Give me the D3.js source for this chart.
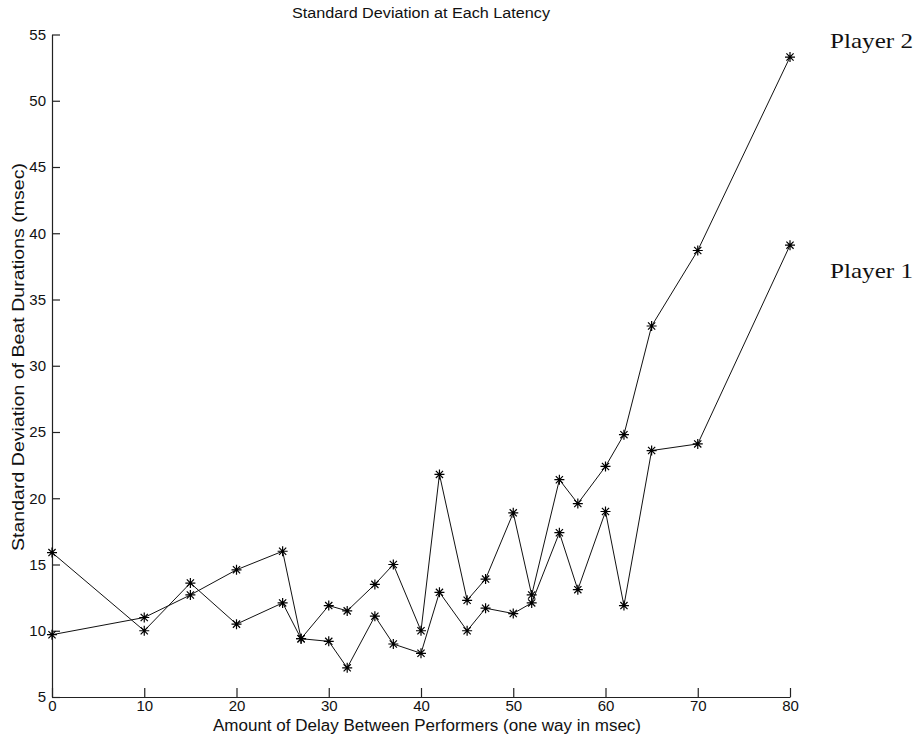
<!DOCTYPE html>
<html>
<head>
<meta charset="utf-8">
<script src="https://cdn.jsdelivr.net/npm/d3@7"></script>
<style>
  html, body { margin: 0; padding: 0; background: #fff; }
  svg { display: block; }
</style>
</head>
<body>
<div id="chart"></div>
<script>
// Latency conditions (one-way delay, msec)
const delays = [0, 10, 15, 20, 25, 27, 30, 32, 35, 37, 40, 42, 45, 47, 50, 52, 55, 57, 60, 62, 65, 70, 80];

// Standard deviation of beat durations (msec) for each performer
const player2 = [9.7, 11.0, 12.7, 14.6, 16.0, 9.4, 11.9, 11.5, 13.5, 15.0, 10.0, 21.8, 12.3, 13.9, 18.9, 12.7, 21.4, 19.6, 22.4, 24.8, 33.0, 38.7, 53.3];
const player1 = [15.9, 10.0, 13.6, 10.5, 12.1, 9.4, 9.2, 7.2, 11.1, 9.0, 8.3, 12.9, 10.0, 11.7, 11.3, 12.1, 17.4, 13.1, 19.0, 11.9, 23.6, 24.1, 39.1];

const seriesNames = ["Player 2", "Player 1"];
const xTicks = [0, 10, 20, 30, 40, 50, 60, 70, 80];
const yTicks = [5, 10, 15, 20, 25, 30, 35, 40, 45, 50, 55];

const titleText = "Standard Deviation at Each Latency";
const xLabelText = "Amount of Delay Between Performers (one way in msec)";
const yLabelText = "Standard Deviation of Beat Durations (msec)";

const W = 919, H = 748;
const margin = { left: 52, right: 129, top: 34.5, bottom: 51 };

const svg = d3.select("#chart").append("svg")
  .attr("width", W).attr("height", H);

const x = d3.scaleLinear().domain([0, 80]).range([margin.left, W - margin.right]);
const y = d3.scaleLinear().domain([5, 55]).range([H - margin.bottom, margin.top]);

const sansFont = "'Liberation Sans', Arial, Helvetica, sans-serif";

// Axes: ticks point inward, no end caps
const xAxis = svg.append("g")
  .attr("transform", `translate(0,${y(5)})`)
  .call(d3.axisBottom(x).tickValues(xTicks).tickSizeInner(-9).tickSizeOuter(0).tickPadding(3));

const yAxis = svg.append("g")
  .attr("transform", `translate(${x(0)},0)`)
  .call(d3.axisLeft(y).tickValues(yTicks).tickSizeInner(-8).tickSizeOuter(0).tickPadding(6));

[xAxis, yAxis].forEach(g => {
  g.selectAll("path, line").attr("stroke", "#222").attr("stroke-width", 1.2);
  g.selectAll("text")
    .attr("font-family", sansFont)
    .attr("font-size", 15)
    .attr("fill", "#111");
});

// Lines
const line = d3.line()
  .x((d, i) => x(delays[i]))
  .y(d => y(d));

const series = [player2, player1];

svg.append("g")
  .selectAll("path")
  .data(series)
  .join("path")
  .attr("d", d => line(d))
  .attr("fill", "none")
  .attr("stroke", "#111")
  .attr("stroke-width", 1);

// Asterisk markers
const star = "M-5,0H5M0,-5V5M-3.6,-3.6L3.6,3.6M-3.6,3.6L3.6,-3.6";
series.forEach(vals => {
  svg.append("g")
    .selectAll("path")
    .data(vals)
    .join("path")
    .attr("transform", (d, i) => `translate(${x(delays[i])},${y(d)})`)
    .attr("d", star)
    .attr("fill", "none")
    .attr("stroke", "#000")
    .attr("stroke-width", 1.2);
});

// Title
svg.append("text")
  .attr("x", 421).attr("y", 18)
  .attr("text-anchor", "middle")
  .attr("font-family", sansFont)
  .attr("font-size", 14)
  .attr("textLength", 258)
  .attr("lengthAdjust", "spacingAndGlyphs")
  .attr("fill", "#111")
  .text(titleText);

// Axis titles
svg.append("text")
  .attr("x", 427).attr("y", 731)
  .attr("text-anchor", "middle")
  .attr("font-family", sansFont)
  .attr("font-size", 16)
  .attr("textLength", 428)
  .attr("lengthAdjust", "spacingAndGlyphs")
  .attr("fill", "#111")
  .text(xLabelText);

svg.append("text")
  .attr("transform", "translate(24,357) rotate(-90)")
  .attr("text-anchor", "middle")
  .attr("font-family", sansFont)
  .attr("font-size", 16)
  .attr("textLength", 388)
  .attr("lengthAdjust", "spacingAndGlyphs")
  .attr("fill", "#111")
  .text(yLabelText);

// Series labels beside the line ends
const labelY = [48, 278];
seriesNames.forEach((name, i) => {
  svg.append("text")
    .attr("x", 830).attr("y", labelY[i])
    .attr("font-family", "'Liberation Serif', 'DejaVu Serif', serif")
    .attr("font-size", 21)
    .attr("textLength", 83)
    .attr("lengthAdjust", "spacingAndGlyphs")
    .attr("fill", "#111")
    .text(name);
});
</script>
</body>
</html>
